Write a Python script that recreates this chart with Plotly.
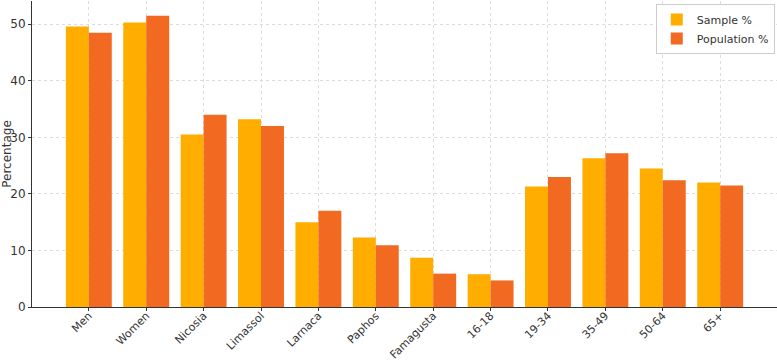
import plotly.graph_objects as go

categories = ["Men", "Women", "Nicosia", "Limassol", "Larnaca", "Paphos", "Famagusta",
              "16-18", "19-34", "35-49", "50-64", "65+"]
sample_pct = [49.6, 50.3, 30.5, 33.2, 15.0, 12.3, 8.7, 5.8, 21.3, 26.3, 24.5, 22.0]
population_pct = [48.5, 51.5, 34.0, 32.0, 17.0, 10.9, 5.9, 4.7, 23.0, 27.2, 22.4, 21.5]
y_ticks = [0, 10, 20, 30, 40, 50]

idx = list(range(len(categories)))

fig = go.Figure()
fig.add_trace(go.Bar(x=idx, y=sample_pct, name="Sample %", marker_color="#FFAE00",
                     marker_line_width=0))
fig.add_trace(go.Bar(x=idx, y=population_pct, name="Population %", marker_color="#F26A22",
                     marker_line_width=0))

font = dict(family="DejaVu Sans", size=12, color="#333333")
fig.update_layout(
    width=777, height=361,
    margin=dict(l=32, r=0, t=1, b=54),
    barmode="group", bargap=0.2, bargroupgap=0,
    plot_bgcolor="white", paper_bgcolor="white",
    font=font,
    showlegend=True,
    legend=dict(x=0.997, y=0.99, xanchor="right", yanchor="top",
                bgcolor="rgba(255,255,255,0.9)", bordercolor="#CCCCCC", borderwidth=1,
                font=dict(family="DejaVu Sans", size=11, color="#333333"),
                itemwidth=30, tracegroupgap=0),
    xaxis=dict(
        tickmode="array", tickvals=idx, ticktext=categories, tickangle=-45,
        range=[-0.99, 11.99], automargin=False, ticklabelstandoff=-6,
        showline=True, linecolor="#333333", linewidth=1,
        ticks="outside", ticklen=3, tickcolor="#333333",
        showgrid=True, gridcolor="#DDDDDD", griddash="dot", gridwidth=1,
        zeroline=False, tickfont=dict(family="DejaVu Sans", size=11, color="#333333"),
    ),
    yaxis=dict(
        title=dict(text="Percentage", standoff=4, font=dict(family="DejaVu Sans", size=12, color="#333333")),
        tickmode="array", tickvals=y_ticks, range=[0, 54.1], automargin=False,
        showline=True, linecolor="#333333", linewidth=1,
        ticks="outside", ticklen=3, tickcolor="#333333",
        showgrid=True, gridcolor="#DDDDDD", griddash="dot", gridwidth=1,
        zeroline=False, tickfont=dict(family="DejaVu Sans", size=12, color="#333333"),
    ),
)

fig.write_html("out.html")
